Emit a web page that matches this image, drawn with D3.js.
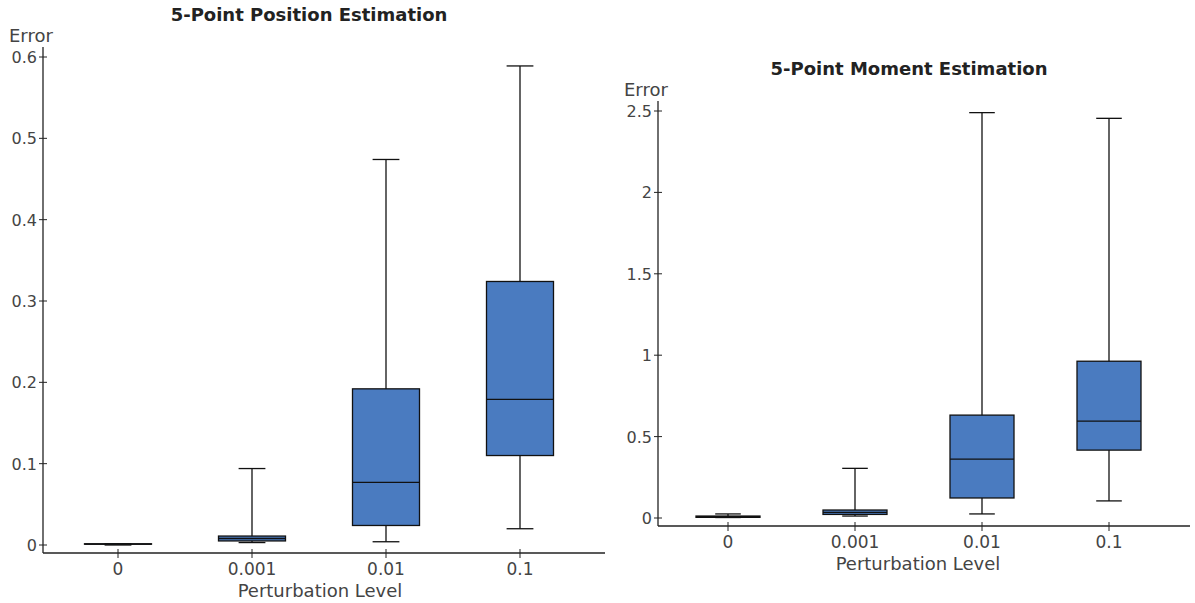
<!DOCTYPE html>
<html>
<head>
<meta charset="utf-8">
<script src="https://cdn.jsdelivr.net/npm/d3@7"></script>
<style>
  body { margin: 0; background: #fff; }
  text { font-family: "DejaVu Sans", Verdana, sans-serif; }
</style>
</head>
<body>
<div id="chart"></div>
<script>
// perturbation levels (x categories)
const levels = ['0', '0.001', '0.01', '0.1'];

// box stats per level: [min, q1, median, q3, max]
const positionStats = [
    [0.0, 0.001, 0.001, 0.0015, 0.0015],
    [0.003, 0.005, 0.008, 0.011, 0.094],
    [0.004, 0.024, 0.077, 0.192, 0.474],
    [0.020, 0.110, 0.179, 0.324, 0.589]
];
const momentStats = [
    [0.003, 0.004, 0.008, 0.012, 0.025],
    [0.012, 0.022, 0.035, 0.049, 0.305],
    [0.025, 0.123, 0.362, 0.632, 2.49],
    [0.105, 0.417, 0.595, 0.963, 2.455]
];

const positionTicks = [0, 0.1, 0.2, 0.3, 0.4, 0.5, 0.6];
const momentTicks = [0, 0.5, 1, 1.5, 2, 2.5];

const width = 1195;
const height = 603;
const boxColor = '#4a7bc0';

let svg = d3.select('#chart')
    .append('svg')
    .attr('width', width)
    .attr('height', height);

function DrawPanel(cfg) {
    const g = svg.append('g');

    const x = d3.scalePoint()
        .domain(levels)
        .range([cfg.xFirst, cfg.xLast]);

    const y = d3.scaleLinear()
        .domain([0, cfg.yMax])
        .range([cfg.yZero, cfg.yTop]);

    // title
    g.append('text')
        .attr('x', cfg.titleX)
        .attr('y', cfg.titleY)
        .attr('text-anchor', 'middle')
        .style('font-size', '18px')
        .style('font-weight', 'bold')
        .style('fill', '#222')
        .text(cfg.title);

    // y label
    g.append('text')
        .attr('x', cfg.axisX - 34)
        .attr('y', cfg.yTop - 15)
        .style('font-size', '18px')
        .style('fill', '#444')
        .text('Error');

    // x label
    g.append('text')
        .attr('x', cfg.xLabelX)
        .attr('y', cfg.axisY + 44)
        .attr('text-anchor', 'middle')
        .style('font-size', '18px')
        .style('fill', '#444')
        .text('Perturbation Level');

    // axis lines
    g.append('line')
        .attr('x1', cfg.axisX).attr('x2', cfg.axisX)
        .attr('y1', cfg.yTop - 10).attr('y2', cfg.axisY)
        .attr('stroke', '#222').attr('stroke-width', 1.3);
    g.append('line')
        .attr('x1', cfg.axisX).attr('x2', cfg.axisEnd)
        .attr('y1', cfg.axisY).attr('y2', cfg.axisY)
        .attr('stroke', '#222').attr('stroke-width', 1.3);

    // y ticks
    const yt = g.selectAll('.ytick').data(cfg.ticks).enter().append('g');
    yt.append('line')
        .attr('x1', cfg.axisX - 4).attr('x2', cfg.axisX + 4)
        .attr('y1', d => y(d)).attr('y2', d => y(d))
        .attr('stroke', '#222');
    yt.append('text')
        .attr('x', cfg.axisX - 6)
        .attr('y', d => y(d) + 6)
        .attr('text-anchor', 'end')
        .style('font-size', '16px')
        .style('fill', '#444')
        .text(d => d);

    // x ticks
    const xt = g.selectAll('.xtick').data(levels).enter().append('g');
    xt.append('line')
        .attr('x1', d => x(d)).attr('x2', d => x(d))
        .attr('y1', cfg.axisY - 4).attr('y2', cfg.axisY + 5)
        .attr('stroke', '#222');
    xt.append('text')
        .attr('x', d => x(d))
        .attr('y', cfg.axisY + 22)
        .attr('text-anchor', 'middle')
        .style('font-size', '17px')
        .style('fill', '#444')
        .text(d => d);

    // boxes
    const boxes = g.selectAll('.box')
        .data(cfg.stats.map((s, i) => ({ level: levels[i], s: s })))
        .enter().append('g');

    const bw = cfg.boxWidth;
    const cw = bw * 0.4;

    boxes.append('line')
        .attr('x1', d => x(d.level)).attr('x2', d => x(d.level))
        .attr('y1', d => y(d.s[0])).attr('y2', d => y(d.s[4]))
        .attr('stroke', '#111').attr('stroke-width', 1.3);
    boxes.append('line')
        .attr('x1', d => x(d.level) - cw / 2).attr('x2', d => x(d.level) + cw / 2)
        .attr('y1', d => y(d.s[0])).attr('y2', d => y(d.s[0]))
        .attr('stroke', '#111').attr('stroke-width', 1.3);
    boxes.append('line')
        .attr('x1', d => x(d.level) - cw / 2).attr('x2', d => x(d.level) + cw / 2)
        .attr('y1', d => y(d.s[4])).attr('y2', d => y(d.s[4]))
        .attr('stroke', '#111').attr('stroke-width', 1.3);
    boxes.append('rect')
        .attr('x', d => x(d.level) - bw / 2)
        .attr('width', bw)
        .attr('y', d => y(d.s[3]))
        .attr('height', d => Math.max(0, y(d.s[1]) - y(d.s[3])))
        .attr('fill', boxColor)
        .attr('stroke', '#111').attr('stroke-width', 1.3);
    boxes.append('line')
        .attr('x1', d => x(d.level) - bw / 2).attr('x2', d => x(d.level) + bw / 2)
        .attr('y1', d => y(d.s[2])).attr('y2', d => y(d.s[2]))
        .attr('stroke', '#111').attr('stroke-width', 1.3);
}

DrawPanel({
    title: '5-Point Position Estimation', titleX: 309, titleY: 21,
    stats: positionStats, ticks: positionTicks, yMax: 0.6,
    axisX: 43, axisY: 553, axisEnd: 605,
    yZero: 545, yTop: 57,
    xFirst: 118, xLast: 520, boxWidth: 67,
    xLabelX: 320
});

DrawPanel({
    title: '5-Point Moment Estimation', titleX: 909, titleY: 75,
    stats: momentStats, ticks: momentTicks, yMax: 2.5,
    axisX: 658, axisY: 526, axisEnd: 1190,
    yZero: 518, yTop: 111,
    xFirst: 728, xLast: 1109, boxWidth: 64,
    xLabelX: 918
});
</script>
</body>
</html>
